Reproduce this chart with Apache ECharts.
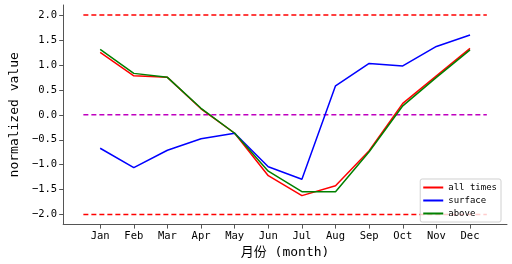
<!DOCTYPE html>
<html>
<head>
<meta charset="utf-8">
<script src="https://cdn.jsdelivr.net/npm/echarts@6/dist/echarts.min.js"></script>
<style>
  html, body { margin: 0; padding: 0; background: #fff; }
  #chart { width: 512px; height: 264px; }
</style>
</head>
<body>
<div id="chart"></div>
<script>
// month labels and positions (Jan = 1)
const months = ['Jan', 'Feb', 'Mar', 'Apr', 'May', 'Jun', 'Jul', 'Aug', 'Sep', 'Oct', 'Nov', 'Dec'];
const monthPos = [1, 2, 3, 4, 5, 6, 7, 8, 9, 10, 11, 12];

// series values
const allTimes = [1.25, 0.78, 0.75, 0.12, -0.37, -1.22, -1.62, -1.42, -0.72, 0.23, 0.78, 1.33];
const surface = [-0.67, -1.06, -0.71, -0.48, -0.37, -1.04, -1.29, 0.58, 1.03, 0.98, 1.37, 1.60];
const above = [1.31, 0.83, 0.75, 0.13, -0.37, -1.13, -1.54, -1.54, -0.74, 0.18, 0.75, 1.30];

// reference lines
const limitY = [2, -2];
const zeroY = 0;
const refSpan = [0.5, 12.5];

const yTicks = [-2, -1.5, -1, -0.5, 0, 0.5, 1, 1.5, 2];

const mono = '"DejaVu Sans Mono", "Noto Sans CJK SC", monospace';

const chart = echarts.init(document.getElementById('chart'), null, { renderer: 'canvas' });

const pair = (vals) => monthPos.map((m, i) => [m, vals[i]]);
const hline = (y) => refSpan.map((x) => [x, y]);

const option = {
  animation: false,
  backgroundColor: '#fff',
  grid: { left: 52, right: 5, top: 5, bottom: 38 },
  legend: {
    data: ['all times', 'surface', 'above'],
    orient: 'vertical',
    right: 11,
    bottom: 42,
    icon: 'rect',
    itemWidth: 20,
    itemHeight: 2,
    itemGap: 4,
    padding: [4, 4, 4, 3],
    backgroundColor: 'rgba(255,255,255,0.8)',
    borderColor: '#d0d0d0',
    borderWidth: 1,
    borderRadius: 2,
    textStyle: { fontFamily: mono, fontSize: 9, color: '#000' },
  },
  xAxis: {
    type: 'value',
    min: -0.1,
    max: 13.1,
    name: '月份 (month)',
    nameLocation: 'middle',
    nameGap: 20,
    nameTextStyle: { fontFamily: mono, fontSize: 13, color: '#000' },
    axisLine: { onZero: false, lineStyle: { color: '#555', width: 1 } },
    axisTick: { customValues: monthPos, length: 4, lineStyle: { color: '#555' } },
    axisLabel: {
      customValues: monthPos,
      formatter: (v) => months[Math.round(v) - 1] || '',
      fontFamily: mono,
      fontSize: 10.5,
      color: '#000',
      margin: 6,
    },
    splitLine: { show: false },
  },
  yAxis: {
    type: 'value',
    min: -2.2,
    max: 2.2,
    name: 'normalized value',
    nameLocation: 'middle',
    nameGap: 41,
    nameTextStyle: { fontFamily: mono, fontSize: 13, color: '#000' },
    axisLine: { show: true, onZero: false, lineStyle: { color: '#555', width: 1 } },
    axisTick: { show: true, customValues: yTicks, length: 4, lineStyle: { color: '#555' } },
    axisLabel: {
      customValues: yTicks,
      formatter: (v) => v.toFixed(1).replace('-', '\u2212'),
      fontFamily: mono,
      fontSize: 10.5,
      color: '#000',
      margin: 6,
    },
    splitLine: { show: false },
  },
  series: [
    {
      type: 'line', silent: true, symbol: 'none', z: 1,
      data: hline(limitY[0]),
      lineStyle: { color: '#ff0000', width: 1.5, type: [5, 3] },
    },
    {
      type: 'line', silent: true, symbol: 'none', z: 1,
      data: hline(limitY[1]),
      lineStyle: { color: '#ff0000', width: 1.5, type: [5, 3] },
    },
    {
      type: 'line', silent: true, symbol: 'none', z: 1,
      data: hline(zeroY),
      lineStyle: { color: '#bf00bf', width: 1.5, type: [5, 3] },
    },
    {
      name: 'all times', type: 'line', symbol: 'none', z: 2,
      data: pair(allTimes),
      itemStyle: { color: '#ff0000' },
      lineStyle: { color: '#ff0000', width: 1.5 },
    },
    {
      name: 'surface', type: 'line', symbol: 'none', z: 3,
      data: pair(surface),
      itemStyle: { color: '#0000ff' },
      lineStyle: { color: '#0000ff', width: 1.5 },
    },
    {
      name: 'above', type: 'line', symbol: 'none', z: 4,
      data: pair(above),
      itemStyle: { color: '#008000' },
      lineStyle: { color: '#008000', width: 1.5 },
    },
  ],
};

chart.setOption(option);
</script>
</body>
</html>
